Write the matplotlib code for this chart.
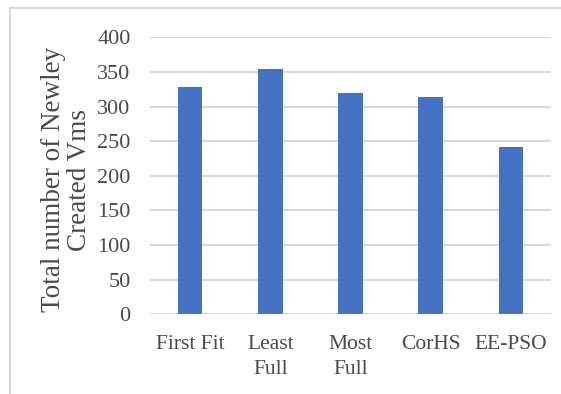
import matplotlib
matplotlib.use("Agg")
import matplotlib.pyplot as plt
from matplotlib.lines import Line2D

categories = ["First Fit", "Least\nFull", "Most\nFull", "CorHS", "EE-PSO"]
vm_counts = [328, 354, 320, 314, 242]
y_ticks = [0, 50, 100, 150, 200, 250, 300, 350, 400]

plt.rcParams["font.family"] = ["Liberation Serif", "DejaVu Serif"]

BAR_COLOR = "#4472C4"
TEXT_COLOR = "#4A4A4A"
GRID_COLOR = "#D9D9D9"

fig = plt.figure(figsize=(5.61, 3.94), dpi=100)
fig.patch.set_facecolor("white")

# chart-area frame (top and left edges)
fig.add_artist(Line2D([10 / 561, 10 / 561], [0, 1 - 8 / 394],
                      transform=fig.transFigure, color="#D0D0D0", lw=1.2))
fig.add_artist(Line2D([10 / 561, 1], [1 - 8 / 394, 1 - 8 / 394],
                      transform=fig.transFigure, color="#D0D0D0", lw=1.2))

ax = fig.add_axes([150 / 561, 1 - 314.3 / 394, 401 / 561, 277 / 394])
x = range(len(categories))
ax.bar(x, vm_counts, width=0.305, color=BAR_COLOR, zorder=3)

ax.set_ylim(0, 400)
ax.set_xlim(-0.5, len(categories) - 0.5)
ax.set_yticks(y_ticks)
ax.set_yticklabels([str(v) for v in y_ticks])
ax.set_xticks(list(x))
ax.set_xticklabels(categories, linespacing=1.4)

ax.yaxis.grid(True, color=GRID_COLOR, lw=1.5, zorder=0)
ax.set_axisbelow(True)
for s in ax.spines.values():
    s.set_visible(False)

ax.tick_params(axis="y", length=0, pad=14, labelsize=16, labelcolor=TEXT_COLOR)
ax.tick_params(axis="x", length=0, pad=15, labelsize=15.5, labelcolor=TEXT_COLOR)
for lbl in ax.get_xticklabels():
    lbl.set_verticalalignment("top")

ax.set_ylabel("Total number of Newley\nCreated Vms", fontsize=19.5, color=TEXT_COLOR,
              linespacing=1.05)
ax.yaxis.set_label_coords(-0.145, 0.486)

fig.savefig("out.png", dpi=100)
